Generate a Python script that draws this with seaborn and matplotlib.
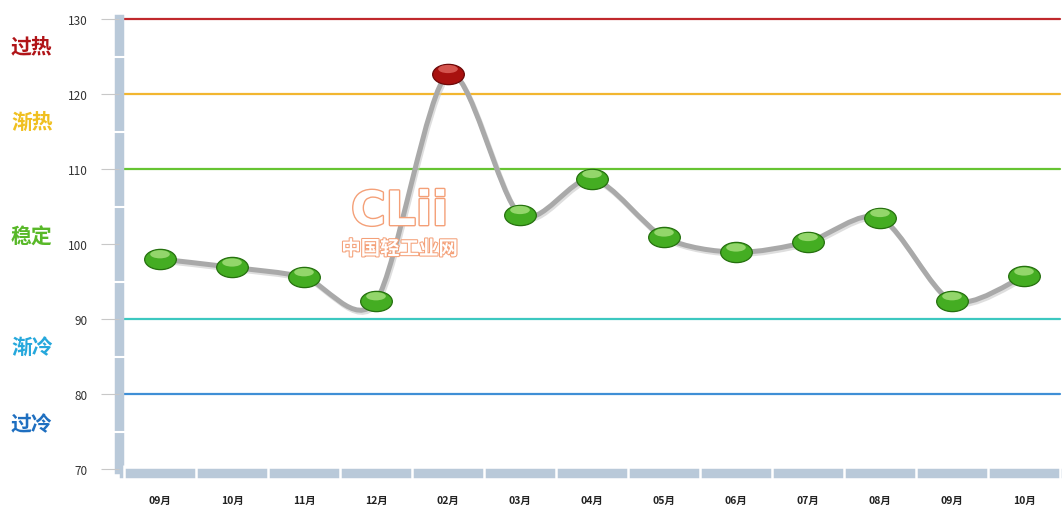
import numpy as np
import matplotlib
matplotlib.use("Agg")
import matplotlib.pyplot as plt
import matplotlib.patheffects as pe
from matplotlib.path import Path
from matplotlib.patches import PathPatch
from matplotlib.transforms import Affine2D, blended_transform_factory
import seaborn as sns

# data
months = ['09月', '10月', '11月', '12月', '02月', '03月', '04月',
          '05月', '06月', '07月', '08月', '09月', '10月']
index_values = [98.0, 96.9, 95.6, 92.4, 122.7, 103.9, 108.7,
                100.9, 98.9, 100.3, 103.5, 92.4, 95.7]

levels = [130, 120, 110, 90, 80]
level_colors = ['#c0282c', '#f2b630', '#66c432', '#3cc8c0', '#3f8fd6']
zone_names = ['过热', '渐热', '稳定', '渐冷', '过冷']
zone_colors = ['#b01418', '#f0c020', '#58b828', '#26a8dc', '#1f6fc0']
zone_y = [126.4, 116.3, 101.1, 86.3, 76.1]

sns.set_theme(style="white")
plt.rcParams['font.family'] = ['Noto Sans CJK SC', 'DejaVu Sans']

fig = plt.figure(figsize=(10.62, 5.06), dpi=100)
ax = fig.add_axes([124 / 1062, 36 / 506, 936 / 1062, 450 / 506])

x = np.arange(len(months))
y = np.array(index_values)

# threshold lines
for lv, c in zip(levels, level_colors):
    ax.axhline(lv, color=c, lw=1.6, zorder=1, clip_on=False)

# smooth spline through the points (catmull-rom as bezier path)
pts = np.column_stack([x, y])
ext = np.vstack([pts[0], pts, pts[-1]])
verts = [tuple(pts[0])]
codes = [Path.MOVETO]
for i in range(len(pts) - 1):
    p0, p1, p2, p3 = ext[i], ext[i + 1], ext[i + 2], ext[i + 3]
    c1 = p1 + (p2 - p0) / 7
    c2 = p2 - (p3 - p1) / 7
    verts += [tuple(c1), tuple(c2), tuple(p2)]
    codes += [Path.CURVE4] * 3
curve = PathPatch(Path(verts, codes), fill=False, edgecolor='#a9a9a9', lw=3.6,
                  zorder=2, capstyle='round',
                  path_effects=[pe.SimpleLineShadow(offset=(1, -1.5), shadow_color='#c8c8c8', alpha=0.6),
                                pe.Normal()])
ax.add_patch(curve)

# glossy ellipse markers
ellipse = Path.unit_circle().transformed(Affine2D().scale(1, 0.64))
hl = Path.unit_circle().transformed(Affine2D().scale(0.62, 0.26).translate(0, 0.3))
hl = Path(np.vstack([[1, 0], hl.vertices]), np.concatenate([[Path.MOVETO], hl.codes]))

peak = int(np.argmax(y))
normal = [i for i in range(len(y)) if i != peak]
sns.scatterplot(x=x[normal], y=y[normal], marker=ellipse, s=520, color='#44ad22',
                edgecolor='#25700e', linewidth=0.9, zorder=4, ax=ax)
sns.scatterplot(x=x[normal], y=y[normal], marker=hl, s=520, color='#aee484',
                edgecolor='none', alpha=0.75, zorder=5, ax=ax)
sns.scatterplot(x=[x[peak]], y=[y[peak]], marker=ellipse, s=520, color='#a8110f',
                edgecolor='#6a0808', linewidth=0.9, zorder=4, ax=ax)
sns.scatterplot(x=[x[peak]], y=[y[peak]], marker=hl, s=520, color='#e8726a',
                edgecolor='none', alpha=0.7, zorder=5, ax=ax)

# watermark
ax.text(3.33, 104.2, 'CLii', fontsize=34, fontweight='bold', color='white',
        ha='center', va='center', zorder=3, family='DejaVu Sans',
        path_effects=[pe.withStroke(linewidth=2, foreground='#f4a078')])
ax.text(3.33, 99.3, '中国轻工业网', fontsize=14, fontweight='bold', color='white',
        ha='center', va='center', zorder=3,
        path_effects=[pe.withStroke(linewidth=1.5, foreground='#f4a078')])

ax.set_xlim(-0.5, len(months) - 0.5)
ax.set_ylim(70, 130)
ax.set_yticks([70, 80, 90, 100, 110, 120, 130])
ax.set_xticks(x)
ax.set_xticklabels(months)

# thick segmented axis bars
for side in ['top', 'right']:
    ax.spines[side].set_visible(False)
for side in ['left', 'bottom']:
    ax.spines[side].set_color('#b9c9d9')
    ax.spines[side].set_linewidth(6.8)
ax.spines['left'].set_position(('outward', 3.4))
ax.spines['bottom'].set_position(('outward', 3))
ax.xaxis.set_zorder(3)
ax.yaxis.set_zorder(3)
ax.set_yticks([75, 85, 95, 105, 115, 125], minor=True)
ax.set_xticks(np.arange(-0.5, len(months), 1.0), minor=True)
ax.tick_params(axis='y', which='major', left=True, length=13, width=0.8, color='#c8c8c8',
               pad=10, labelsize=8.5, labelcolor='#333333')
ax.tick_params(axis='y', which='minor', left=True, direction='inout', length=12,
               width=1.5, color='white')
ax.tick_params(axis='x', which='major', bottom=False, length=0, pad=16, labelsize=7.5,
               labelcolor='#222222')
ax.tick_params(axis='x', which='minor', bottom=True, direction='inout', length=12,
               width=1.8, color='white')
for lab in ax.get_xticklabels():
    lab.set_fontweight('bold')

# zone names on the left
trans = blended_transform_factory(fig.transFigure, ax.transData)
for name, c, zy in zip(zone_names, zone_colors, zone_y):
    ax.text(11 / 1062, zy, name, transform=trans, fontsize=15, fontweight='bold',
            color=c, ha='left', va='center')

ax.grid(False)
fig.savefig('out.png', dpi=100, facecolor='white')
